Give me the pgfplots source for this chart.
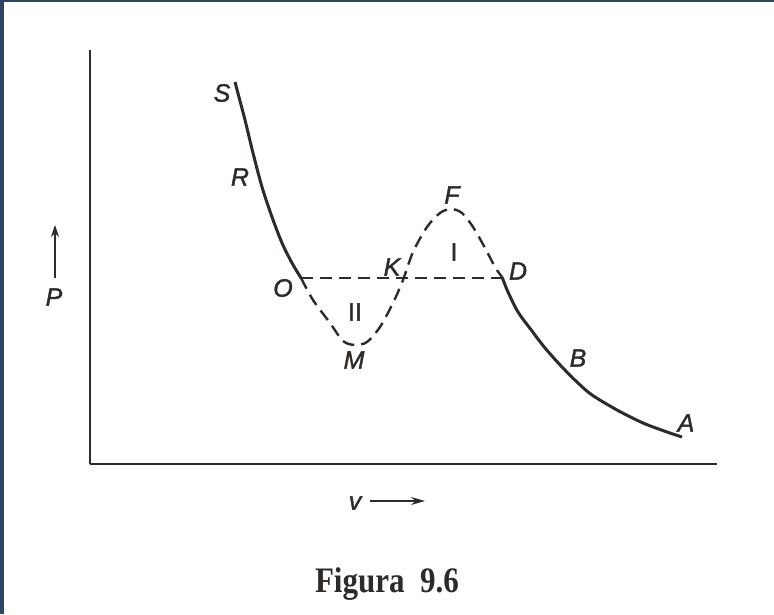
\documentclass[border=0pt]{standalone}
\usepackage{fontspec}
\setmainfont{Liberation Serif}
\setsansfont{Liberation Sans}
\newfontfamily\labfont[FakeBold=1.5]{Liberation Sans}
\usepackage{graphicx}
\usepackage{pgfplots}
\pgfplotsset{compat=1.18}
\usetikzlibrary{arrows.meta}
\definecolor{frameblue}{HTML}{2A4565}
\definecolor{ink}{HTML}{2E2A28}
\tikzset{lab/.style={font=\labfont\itshape\fontsize{12.5}{14}\selectfont, text=ink},
         rom/.style={font=\labfont\fontsize{12.5}{14}\selectfont, text=ink}}

\begin{document}
\begin{tikzpicture}
\begin{axis}[
    x=0.5pt, y=0.5pt,
    xmin=90, xmax=717,
    ymin=150, ymax=564,
    axis lines=left,
    axis line style={-, line width=1pt, ink},
    xtick=\empty, ytick=\empty,
    clip=false,
]
% page area and scan frame
\path (axis cs:0,0) rectangle (axis cs:774,614);
\fill[frameblue] (axis cs:0,0) rectangle (axis cs:4,614);
\fill[frameblue] (axis cs:0,612) rectangle (axis cs:774,614);

% liquid branch S-R-O
\addplot[ink, line width=1.5pt, smooth, tension=0.5] coordinates {
 (235,532) (240,513) (245,494) (253,461) (262,427) (272,397) (282,371) (292,351) (301,336)};
% unstable loop O-M-K-F-D
\addplot[ink, line width=1.2pt, smooth, tension=0.5, dash pattern=on 6pt off 3.5pt] coordinates {
 (301,336) (313,314) (330,291) (343,273) (355,269) (367,272) (380,287)
 (393,311) (403,334) (413,362) (427,387) (440,401) (451,405) (462,401)
 (473,387) (485,366) (495,347) (502,337)};
% tie line O-D
\addplot[ink, line width=1.2pt, dash pattern=on 6pt off 3.5pt] coordinates {(301,336) (502,336)};
% vapour branch D-B-A
\addplot[ink, line width=1.5pt, smooth, tension=0.5] coordinates {
 (502,337) (508,322) (518,302) (532,283) (545,266) (562,247) (578,231)
 (592,219) (617,204) (643,191) (667,182) (682,177)};

% point labels
\node[lab] at (axis cs:222,521) {S};
\node[lab] at (axis cs:240,437) {R};
\node[lab] at (axis cs:283,326) {O};
\node[lab] at (axis cs:392,347) {K};
\node[lab] at (axis cs:452,419) {F};
\node[rom] at (axis cs:454,362) {I};
\node[lab] at (axis cs:518,343) {D};
\node[rom] at (axis cs:355,302) {II};
\node[lab] at (axis cs:354,254) {M};
\node[lab] at (axis cs:578,256) {B};
\node[lab] at (axis cs:686,191) {A};

% axis names
\draw[ink, line width=0.7pt, -{Stealth[length=6pt,width=4pt]}] (axis cs:55,336) -- (axis cs:55,389);
\node[lab] at (axis cs:54,317) {P};
\node[lab] at (axis cs:355,111) {v};
\draw[ink, line width=0.7pt, -{Stealth[length=7pt,width=4pt]}] (axis cs:370,113) -- (axis cs:425,113);

% caption
\node[font=\rmfamily\bfseries\fontsize{16}{18}\selectfont, text=ink] at (axis cs:387,30) {\scalebox{0.97}[1.12]{Figura\ \ 9.6}};
\end{axis}
\end{tikzpicture}
\end{document}
